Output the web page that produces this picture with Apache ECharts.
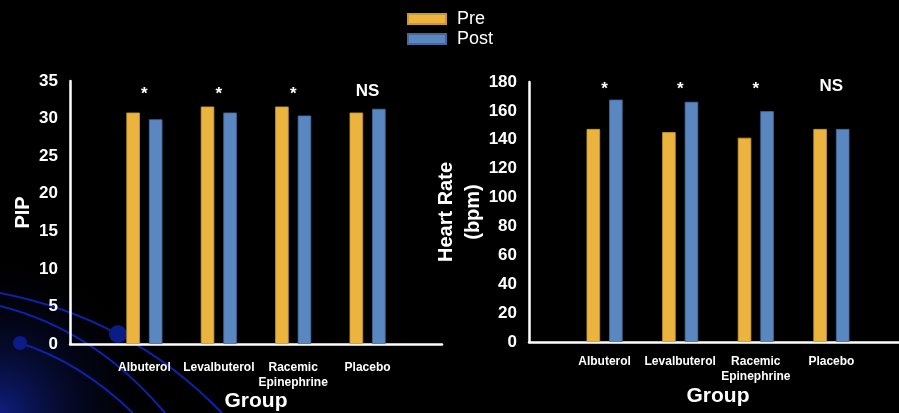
<!DOCTYPE html>
<html>
<head>
<meta charset="utf-8">
<script src="https://cdn.jsdelivr.net/npm/echarts@6/dist/echarts.min.js"></script>
<style>
  html, body { margin: 0; padding: 0; background: #000; }
  #chart { width: 899px; height: 413px; }
</style>
</head>
<body>
<div id="chart"></div>
<script>
// data
var groups = ['Albuterol', 'Levalbuterol', 'Racemic\nEpinephrine', 'Placebo']
var pipPre = [30.8, 31.6, 31.6, 30.8]
var pipPost = [29.9, 30.8, 30.4, 31.3]
var hrPre = [147.5, 145.3, 141.4, 147.5]
var hrPost = [167.8, 166.3, 159.8, 147.5]
var sigLabels = ['*', '*', '*', 'NS']
var pipSigY = [33.5, 33.5, 33.5, 33.6]
var hrSigY = [176.4, 176.4, 176.4, 177]
var pipTicks = { min: 0, max: 35, interval: 5 }
var hrTicks = { min: 0, max: 180, interval: 20 }

var font = 'Liberation Sans, Arial, sans-serif'
var preColor = '#EBB43F'
var postColor = '#5B87C1'

// empty slot on both ends so the groups sit one band in from the axis
function pad(arr) {
  return ['-'].concat(arr, ['-'])
}

function sigData(ys) {
  var out = ys.map(function (v, i) {
    return {
      value: v,
      label: { formatter: sigLabels[i], offset: sigLabels[i] === '*' ? [0, 2] : [0, 0] }
    }
  })
  return pad(out)
}

function xAxisOf(gridIndex, labelMargin, gap) {
  return {
    type: 'category',
    gridIndex: gridIndex,
    data: pad(groups).map(function (g) { return g === '-' ? '' : g }),
    boundaryGap: false,
    axisLine: { show: true, lineStyle: { color: '#fff', width: 2.5 } },
    axisTick: { show: false },
    axisLabel: {
      color: '#fff', fontSize: 12, fontWeight: 'bold', fontFamily: font,
      margin: labelMargin, lineHeight: 15, interval: 0
    },
    name: 'Group',
    nameLocation: 'middle',
    nameGap: gap,
    nameMoveOverlap: false,
    nameTextStyle: { color: '#fff', fontSize: 21, fontWeight: 'bold', fontFamily: font }
  }
}

function yAxisOf(gridIndex, ticks, name, gap) {
  return {
    type: 'value',
    gridIndex: gridIndex,
    min: ticks.min,
    max: ticks.max,
    interval: ticks.interval,
    axisLine: { show: true, lineStyle: { color: '#fff', width: 2.5 } },
    axisTick: { show: false },
    splitLine: { show: false },
    axisLabel: { color: '#fff', fontSize: 17, fontWeight: 'bold', fontFamily: font, margin: 12 },
    name: name,
    nameLocation: 'middle',
    nameGap: gap,
    nameMoveOverlap: false,
    nameTextStyle: { color: '#fff', fontSize: 20, fontWeight: 'bold', fontFamily: font, lineHeight: 27 }
  }
}

function barSeries(name, data, color, border, idx) {
  return {
    name: name,
    type: 'bar',
    xAxisIndex: idx,
    yAxisIndex: idx,
    data: pad(data),
    barWidth: 13.5,
    barGap: '67%',
    itemStyle: { color: color, borderColor: border, borderWidth: 0.8 },
    emphasis: { disabled: true },
    z: 3
  }
}

function sigSeries(ys, idx) {
  return {
    type: 'scatter',
    xAxisIndex: idx,
    yAxisIndex: idx,
    symbolSize: 0,
    data: sigData(ys),
    itemStyle: { opacity: 1 },
    label: {
      show: true, position: 'inside', color: '#fff',
      fontSize: 17, fontWeight: 'bold', fontFamily: font
    },
    silent: true,
    z: 4
  }
}

var chart = echarts.init(document.getElementById('chart'))

chart.setOption({
  backgroundColor: '#000',
  animation: false,
  // template decoration in the lower-left corner
  graphic: [
    {
      type: 'rect', z: -10, silent: true,
      shape: { x: 0, y: 200, width: 260, height: 213 },
      style: {
        fill: new echarts.graphic.RadialGradient(0, 1, 0.75, [
          { offset: 0, color: 'rgba(20,40,170,0.75)' },
          { offset: 1, color: 'rgba(0,0,0,0)' }
        ])
      }
    },
    { type: 'bezierCurve', z: -9, silent: true, shape: { x1: 0, y1: 293, cpx1: 130, cpy1: 318, x2: 222, y2: 413 }, style: { stroke: '#0C23A8', lineWidth: 2, fill: null } },
    { type: 'bezierCurve', z: -9, silent: true, shape: { x1: 0, y1: 306, cpx1: 95, cpy1: 330, x2: 165, y2: 413 }, style: { stroke: '#0C23A8', lineWidth: 2, fill: null } },
    { type: 'bezierCurve', z: -9, silent: true, shape: { x1: 20, y1: 343, cpx1: 80, cpy1: 362, x2: 133, y2: 413 }, style: { stroke: '#0C23A8', lineWidth: 2, fill: null } },
    { type: 'circle', z: -8, silent: true, shape: { cx: 20, cy: 343, r: 7 }, style: { fill: '#0B1C88' } },
    { type: 'circle', z: -8, silent: true, shape: { cx: 118, cy: 334, r: 9 }, style: { fill: '#0B1C88' } }
  ],
  legend: {
    data: ['Pre', 'Post'],
    orient: 'vertical',
    left: 402,
    top: 4,
    icon: 'rect',
    itemWidth: 38,
    itemHeight: 10,
    itemGap: 0,
    textStyle: { color: '#fff', fontSize: 18, fontFamily: font, lineHeight: 20, padding: [0, 0, 0, 6] }
  },
  grid: [
    { left: 70, right: 457, top: 81, bottom: 69, outerBoundsMode: 'none' },
    { left: 529, right: -8, top: 82, bottom: 71, outerBoundsMode: 'none' }
  ],
  xAxis: [xAxisOf(0, 16, 47), xAxisOf(1, 12, 44)],
  yAxis: [
    yAxisOf(0, pipTicks, 'PIP', 33),
    yAxisOf(1, hrTicks, 'Heart Rate\n(bpm)', 42)
  ],
  series: [
    barSeries('Pre', pipPre, preColor, '#C99A33', 0),
    barSeries('Post', pipPost, postColor, '#46699A', 0),
    sigSeries(pipSigY, 0),
    barSeries('Pre', hrPre, preColor, '#C99A33', 1),
    barSeries('Post', hrPost, postColor, '#46699A', 1),
    sigSeries(hrSigY, 1)
  ]
})
</script>
</body>
</html>
